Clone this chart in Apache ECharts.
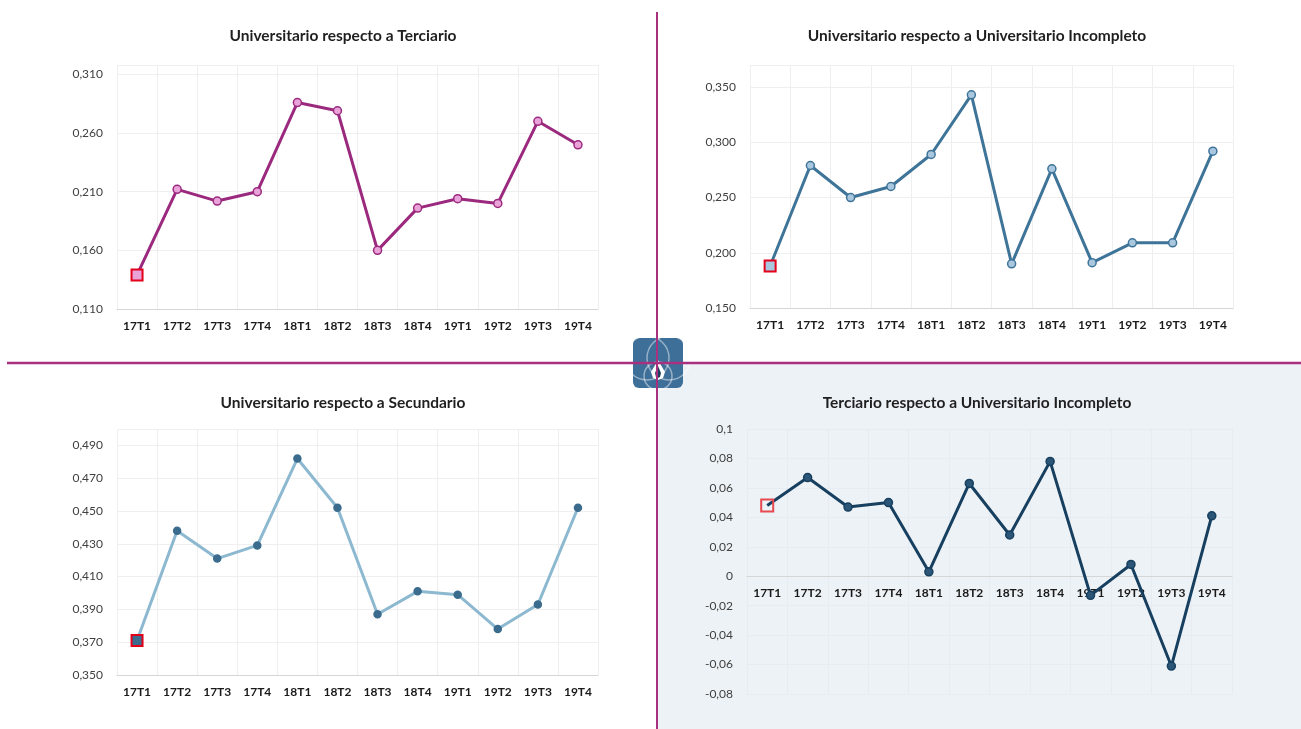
<!DOCTYPE html>
<html><head><meta charset="utf-8">
<script src="https://cdn.jsdelivr.net/npm/echarts@6/dist/echarts.min.js"></script>
<style>html,body{margin:0;padding:0;background:#fff}#c{width:1301px;height:729px}</style>
</head><body><div id="c"></div>
<script>
const categories = ['17T1','17T2','17T3','17T4','18T1','18T2','18T3','18T4','19T1','19T2','19T3','19T4'];
const titles = ['Universitario respecto a Terciario','Universitario respecto a Universitario Incompleto','Universitario respecto a Secundario','Terciario respecto a Universitario Incompleto'];
const univVsTerciario = [0.139,0.212,0.202,0.210,0.286,0.279,0.160,0.196,0.204,0.200,0.270,0.250];
const univVsUnivIncompleto = [0.188,0.279,0.250,0.260,0.289,0.343,0.190,0.276,0.191,0.209,0.209,0.292];
const univVsSecundario = [0.371,0.438,0.421,0.429,0.482,0.452,0.387,0.401,0.399,0.378,0.393,0.452];
const terciarioVsUnivIncompleto = [0.048,0.067,0.047,0.050,0.003,0.063,0.028,0.078,-0.013,0.008,-0.061,0.041];

const FONT = 'Lato, "Open Sans", sans-serif';
const panels = [
  {data: univVsTerciario, grid:{left:117, top:65, width:481, height:244}, min:0.11, max:0.318, interval:0.05, dec:3,
   line:'#9b2a7f', mFill:'#e9a3d9', mBorder:'#9b2a7f', first:{fill:'#e9a3d9', border:'#e3001b'}, title:[338,23]},
  {data: univVsUnivIncompleto, grid:{left:750, top:65, width:483, height:243}, min:0.15, max:0.37, interval:0.05, dec:3,
   line:'#3f7499', mFill:'#a9c7de', mBorder:'#3f7499', first:{fill:'#a9c7de', border:'#e3001b'}, title:[972,23]},
  {data: univVsSecundario, grid:{left:117, top:429, width:481, height:246}, min:0.35, max:0.5, interval:0.02, dec:3,
   line:'#8cb8d0', mFill:'#3b6c8e', mBorder:'#3b6c8e', first:{fill:'#3b6c8e', border:'#e3001b'}, title:[338,390]},
  {data: terciarioVsUnivIncompleto, grid:{left:747, top:429, width:485, height:265}, min:-0.08, max:0.1, interval:0.02, dec:null,
   line:'#173f5f', mFill:'#2b5677', mBorder:'#173f5f', first:{fill:'rgba(0,0,0,0)', border:'#e8484f'}, title:[972,390]}
];

function fmt(v, dec){
  if (dec === null) {
    let s = (+v.toFixed(2)).toString();
    return s.replace('.', ',');
  }
  return v.toFixed(dec).replace('.', ',');
}
// shift a category axis up to the value-axis zero when the range crosses zero
function zeroOffset(p){
  if (p.min < 0 && p.max > 0) return -p.grid.height * (0 - p.min) / (p.max - p.min);
  return 0;
}

const option = {
  animation:false,
  backgroundColor:'#ffffff',
  title: panels.map((p,i)=>({text:titles[i], left:p.title[0], top:p.title[1], textAlign:'center',
    textStyle:{fontFamily:FONT, fontWeight:'bold', fontSize:15.5, color:'#1f1f1f'}})),
  grid: panels.map(p=>Object.assign({containLabel:false}, p.grid)),
  xAxis: panels.map((p,i)=>({type:'category', gridIndex:i, data:categories, boundaryGap:true,
    position:'bottom', offset: zeroOffset(p),
    axisLine:{show:true, onZero:false, lineStyle:{color:'#d6d6d6', width:1}},
    axisTick:{show:false},
    axisLabel:{fontFamily:FONT, fontWeight:'bold', fontSize:12, color:'#1a1a1a', margin:11, interval:0},
    splitLine:{show:true, lineStyle:{color: i===3 ? '#e6ecf1' : '#efefef', width:1}}
  })),
  yAxis: panels.map((p,i)=>({type:'value', gridIndex:i, min:p.min, max:p.max, interval:p.interval,
    axisLine:{show:false}, axisTick:{show:false},
    axisLabel:{fontFamily:FONT, fontSize:12, color:'#404040', margin:14, showMaxLabel: i===3,
      formatter:(v)=>fmt(v,p.dec)},
    splitLine:{show:true, lineStyle:{color: i===3 ? '#e6ecf1' : '#efefef', width:1}}
  })),
  series: panels.map((p,i)=>({type:'line', xAxisIndex:i, yAxisIndex:i, z:3,
    data: p.data.map((v,k)=> k===0 ? {value:v, symbol:'rect', symbolSize:i===3?12:11,
      itemStyle:{color:p.first.fill, borderColor:p.first.border, borderWidth:2}} : v),
    symbol:'circle', symbolSize: i===2 ? 7 : 8, showAllSymbol:true,
    lineStyle:{color:p.line, width:3},
    itemStyle:{color:p.mFill, borderColor:p.mBorder, borderWidth:1.5}
  })),
  graphic:[
    {type:'rect', z:-10, shape:{x:658, y:364, width:643, height:365}, style:{fill:'#edf2f6'}},
    {type:'line', z:10, shape:{x1:657, y1:12, x2:657, y2:729}, style:{stroke:'#a8307f', lineWidth:2}},
    {type:'line', z:10, shape:{x1:7, y1:363, x2:1301, y2:363}, style:{stroke:'#a8307f', lineWidth:2.5}},
    {type:'group', z:20, x:633, y:338, children:[
      {type:'rect', shape:{x:0, y:0, width:50, height:50, r:6}, style:{fill:'#3e6f98'}},
      {type:'circle', shape:{cx:14, cy:20, r:22}, style:{fill:'none', stroke:'rgba(255,255,255,0.45)', lineWidth:1.5}},
      {type:'circle', shape:{cx:36, cy:20, r:22}, style:{fill:'none', stroke:'rgba(255,255,255,0.45)', lineWidth:1.5}},
      {type:'circle', shape:{cx:25, cy:38, r:14}, style:{fill:'none', stroke:'rgba(255,255,255,0.45)', lineWidth:1.5}},
      {type:'polygon', shape:{points:[[25,22],[32,34],[30,40],[25,42],[20,40],[18,34]]}, style:{fill:'#ffffff'}},
      {type:'polygon', shape:{points:[[25,28],[28,35],[27,39],[25,40],[23,39],[22,35]]}, style:{fill:'#1e3f5e'}}
    ]}
  ]
};
const chart = echarts.init(document.getElementById('c'), null, {renderer:'canvas'});
chart.setOption(option);
</script>
</body></html>
